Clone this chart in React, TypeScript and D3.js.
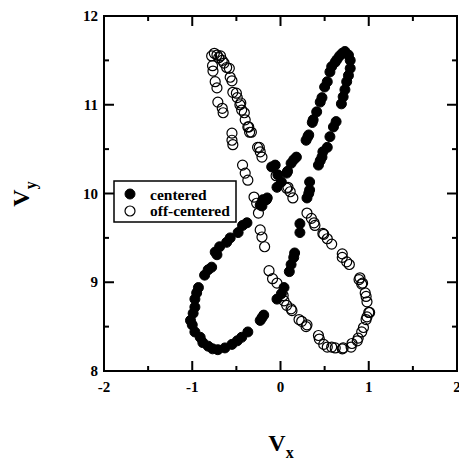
import React from "react";
import * as d3 from "d3";

const centeredX = [0.73,0.70,0.67,0.64,0.62,0.58,0.56,0.53,0.50,0.47,0.45,0.41,0.37,0.36,0.32,0.31,0.29,0.18,0.15,0.12,0.08,0.07,0.01,-0.04,-0.16,-0.21,-0.38,-0.43,-0.48,-0.57,-0.61,-0.69,-0.74,-0.72,-0.78,-0.82,-0.86,-0.93,-0.95,-0.97,-0.97,-0.99,-1.02,-1.00,-0.97,-0.91,-0.88,-0.82,-0.77,-0.71,-0.63,-0.55,-0.49,-0.44,-0.37,-0.23,-0.21,-0.19,-0.04,0.01,0.04,0.10,0.12,0.15,0.16,0.22,0.22,0.30,0.32,0.33,0.33,0.43,0.45,0.47,0.48,0.53,0.56,0.60,0.63,0.69,0.71,0.73,0.75,0.77,0.79,0.79,0.77,-0.10,-0.06,-0.03,-0.23,-0.15,-0.20];
const centeredY = [11.60,11.58,11.55,11.51,11.48,11.43,11.37,11.26,11.20,11.08,11.03,10.92,10.83,10.80,10.66,10.64,10.60,10.41,10.38,10.34,10.25,10.23,10.13,10.07,9.93,9.86,9.67,9.64,9.56,9.50,9.45,9.40,9.34,9.31,9.17,9.14,9.08,8.94,8.88,8.81,8.72,8.65,8.57,8.52,8.44,8.38,8.32,8.28,8.25,8.24,8.26,8.30,8.34,8.38,8.44,8.57,8.60,8.63,8.81,8.87,8.94,9.12,9.20,9.28,9.33,9.56,9.66,9.95,10.00,10.04,10.13,10.32,10.37,10.41,10.47,10.52,10.64,10.75,10.81,11.01,11.09,11.17,11.26,11.33,11.41,11.50,11.56,10.30,10.32,10.21,9.87,9.95,9.93];

const offX = [-0.78,-0.75,-0.72,-0.70,-0.68,-0.66,-0.64,-0.77,-0.765,-0.74,-0.72,-0.71,-0.66,-0.65,-0.55,-0.55,-0.54,-0.43,-0.40,-0.37,-0.30,-0.27,-0.25,-0.23,-0.21,-0.18,-0.13,-0.09,-0.04,0.03,0.04,0.07,0.12,0.13,0.21,0.24,0.29,0.30,0.43,0.44,0.49,0.53,0.58,0.62,0.70,0.71,0.80,0.81,0.87,0.88,0.92,0.94,0.97,0.98,1.00,1.01,0.98,0.97,0.96,0.93,0.92,0.89,0.90,0.78,0.75,0.70,0.70,0.58,0.53,0.49,0.48,0.39,0.38,0.35,0.30,0.14,0.11,0.085,0.07,-0.05,-0.21,-0.23,-0.24,-0.26,-0.33,-0.35,-0.36,-0.37,-0.40,-0.41,-0.44,-0.45,-0.46,-0.49,-0.50,-0.54,-0.55,-0.57,-0.58,-0.61];
const offY = [11.55,11.58,11.56,11.53,11.55,11.50,11.47,11.44,11.38,11.26,11.19,11.03,10.96,10.91,10.68,10.60,10.55,10.32,10.23,10.15,9.96,9.89,9.78,9.59,9.51,9.40,9.13,9.04,8.99,8.85,8.79,8.74,8.70,8.68,8.58,8.56,8.50,8.52,8.40,8.36,8.30,8.27,8.27,8.26,8.25,8.26,8.27,8.31,8.34,8.37,8.44,8.49,8.58,8.61,8.66,8.66,8.78,8.84,8.88,8.99,8.98,9.03,9.05,9.20,9.23,9.28,9.32,9.43,9.49,9.54,9.55,9.64,9.67,9.72,9.78,9.95,10.02,10.07,10.06,10.20,10.41,10.47,10.52,10.52,10.69,10.69,10.75,10.75,10.83,10.91,10.94,11.02,11.00,11.08,11.13,11.14,11.27,11.31,11.41,11.42];

const xMajor = [-2, -1, 0, 1, 2];
const yMajor = [8, 9, 10, 11, 12];
const xMinor = [-1.5, -0.5, 0.5, 1.5];
const yMinor = [8.5, 9.5, 10.5, 11.5];
const seriesNames = ["centered", "off-centered"];

const FONT = "'Liberation Serif', 'Times New Roman', serif";

export default function App() {
  const x = d3.scaleLinear().domain([-2, 2]).range([104, 457]);
  const y = d3.scaleLinear().domain([8, 12]).range([371, 16]);
  const [x0, x1] = x.range();
  const [y0, y1] = y.range();
  const R = 5;
  const big = 10, small = 5;

  return (
    <svg width={459} height={460} style={{ position: "absolute", left: 0, top: 0, background: "#fff" }}>
      <rect x={0} y={0} width={459} height={460} fill="#fff" />
      <g>
        {centeredX.map((v, i) => (
          <circle key={"c" + i} cx={x(v)} cy={y(centeredY[i])} r={R} fill="#000" stroke="#000" strokeWidth={1} />
        ))}
        {offX.map((v, i) => (
          <circle key={"o" + i} cx={x(v)} cy={y(offY[i])} r={R} fill="none" stroke="#000" strokeWidth={1.2} />
        ))}
      </g>
      <rect x={x0} y={y1} width={x1 - x0} height={y0 - y1} fill="none" stroke="#000" strokeWidth={2} />
      <g stroke="#000" strokeWidth={2}>
        {xMajor.map((t) => (
          <g key={"xm" + t}>
            <line x1={x(t)} x2={x(t)} y1={y0} y2={y0 - big} />
            <line x1={x(t)} x2={x(t)} y1={y1} y2={y1 + big} />
          </g>
        ))}
        {xMinor.map((t) => (
          <g key={"xn" + t}>
            <line x1={x(t)} x2={x(t)} y1={y0} y2={y0 - small} />
            <line x1={x(t)} x2={x(t)} y1={y1} y2={y1 + small} />
          </g>
        ))}
        {yMajor.map((t) => (
          <g key={"ym" + t}>
            <line x1={x0} x2={x0 + big} y1={y(t)} y2={y(t)} />
            <line x1={x1} x2={x1 - big} y1={y(t)} y2={y(t)} />
          </g>
        ))}
        {yMinor.map((t) => (
          <g key={"yn" + t}>
            <line x1={x0} x2={x0 + small} y1={y(t)} y2={y(t)} />
            <line x1={x1} x2={x1 - small} y1={y(t)} y2={y(t)} />
          </g>
        ))}
      </g>
      <g fontFamily={FONT} fontSize={15} fontWeight="bold" fill="#000">
        {xMajor.map((t) => (
          <text key={"xl" + t} x={x(t)} y={392} textAnchor="middle">{t}</text>
        ))}
        {yMajor.map((t) => (
          <text key={"yl" + t} x={98} y={y(t) + 5} textAnchor="end">{t}</text>
        ))}
      </g>
      <text x={281} y={451} textAnchor="middle" fontFamily={FONT} fontSize={24} fontWeight="bold" fill="#000">
        V<tspan fontSize={16} dy={7}>x</tspan>
      </text>
      <text transform="translate(29,194) rotate(-90)" textAnchor="middle" fontFamily={FONT} fontSize={24} fontWeight="bold" fill="#000">
        V<tspan fontSize={16} dy={7}>y</tspan>
      </text>
      <rect x={114} y={181} width={122} height={41} fill="#fff" stroke="#000" strokeWidth={1.5} />
      <circle cx={130} cy={194} r={R} fill="#000" stroke="#000" />
      <circle cx={130} cy={211} r={R} fill="none" stroke="#000" strokeWidth={1.2} />
      <text x={150} y={200} fontFamily={FONT} fontSize={15.5} fontWeight="bold" fill="#000">{seriesNames[0]}</text>
      <text x={150} y={216} fontFamily={FONT} fontSize={15.5} fontWeight="bold" fill="#000">{seriesNames[1]}</text>
    </svg>
  );
}
